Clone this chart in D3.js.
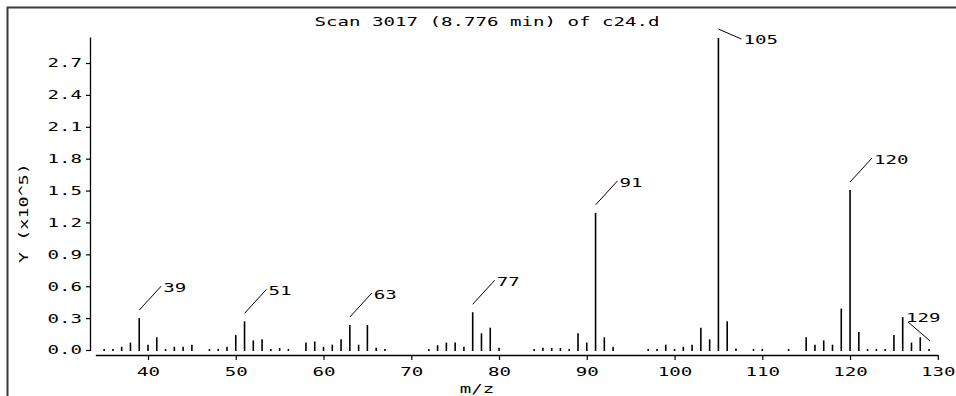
<!DOCTYPE html>
<html>
<head>
<meta charset="utf-8">
<script src="https://cdn.jsdelivr.net/npm/d3@7"></script>
<style>
  html, body { margin: 0; padding: 0; background: #fff; }
  svg { display: block; }
  text { font-family: "DejaVu Sans Mono", monospace; font-size: 13px; fill: #000; }
</style>
</head>
<body>
<svg id="chart" width="956" height="396"></svg>
<script>
// ---- data (intensity in units of 10^5) ----
const title = "Scan 3017 (8.776 min) of c24.d";
const xTitle = "m/z";
const yTitle = "Y (x10^5)";
const mz = [35,36,37,38,39,40,41,42,43,44,45,47,48,49,50,51,52,53,54,55,56,58,59,60,61,62,63,64,65,66,67,
            72,73,74,75,76,77,78,79,80,84,85,86,87,88,89,90,91,92,93,97,98,99,100,101,102,103,104,105,106,107,
            109,110,113,115,116,117,118,119,120,121,122,123,124,125,126,127,128,129];
const intensity = [0.01,0.01,0.03,0.07,0.30,0.05,0.12,0.01,0.03,0.03,0.05,0.01,0.01,0.03,0.14,0.27,0.09,0.10,0.01,0.02,0.01,
            0.07,0.08,0.03,0.05,0.10,0.235,0.05,0.235,0.02,0.01,
            0.01,0.045,0.07,0.07,0.03,0.355,0.157,0.21,0.02,0.01,0.02,0.02,0.02,0.01,0.157,0.07,1.29,0.12,0.03,
            0.01,0.01,0.05,0.01,0.03,0.05,0.21,0.10,2.935,0.27,0.015,
            0.01,0.01,0.01,0.12,0.05,0.09,0.05,0.39,1.505,0.17,0.01,0.01,0.01,0.14,0.31,0.07,0.12,0.01];
const labelMz = [39, 51, 63, 77, 91, 105, 120, 129];
const labelSide = ["ur", "ur", "ur", "ur", "ur", "r", "ur", "ul"];
const xTickValues = [40, 50, 60, 70, 80, 90, 100, 110, 120, 130];
const yTickValues = [0.0, 0.3, 0.6, 0.9, 1.2, 1.5, 1.8, 2.1, 2.4, 2.7];

// ---- layout ----
const CH = 11.5; // character advance of the wide bitmap-like font
const svg = d3.select("#chart");
const x = d3.scaleLinear().domain([34, 130]).range([95.35, 937.8]);
const y = d3.scaleLinear().domain([0, 2.94]).range([350, 37.5]);

function fit(sel) {
  sel.each(function () {
    const t = d3.select(this);
    t.attr("textLength", t.text().length * CH).attr("lengthAdjust", "spacingAndGlyphs");
  });
  return sel;
}

// frame
svg.append("path")
  .attr("d", "M7.5,396 L7.5,7.5 L956,7.5")
  .attr("fill", "none").attr("stroke", "#3a3a3a").attr("stroke-width", 2);

// title
fit(svg.append("text").attr("x", 487).attr("y", 25.5).attr("text-anchor", "middle").text(title));

// y axis
const gy = svg.append("g").attr("transform", "translate(90,0)")
  .call(d3.axisLeft(y).tickValues(yTickValues).tickFormat(d3.format(".1f")).tickSize(4).tickSizeOuter(0).tickPadding(4));
gy.select(".domain").attr("d", `M0.5,${y(0) + 1}V${y(2.94)}`).attr("stroke", "#000").attr("stroke-width", 1.3);
gy.selectAll(".tick line").attr("stroke", "#000").attr("stroke-width", 1.2);
gy.selectAll(".tick text").attr("dy", "0.30em");
fit(gy.selectAll(".tick text"));
gy.attr("font-family", null).attr("font-size", null);

// x axis
const gx = svg.append("g").attr("transform", "translate(0,355)")
  .call(d3.axisBottom(x).tickValues(xTickValues).tickSize(5).tickSizeOuter(0).tickPadding(7));
gx.select(".domain").attr("stroke", "#000").attr("stroke-width", 1.3);
gx.selectAll(".tick line").attr("stroke", "#000").attr("stroke-width", 1.2);
gx.attr("font-family", null).attr("font-size", null);
fit(gx.selectAll(".tick text"));

// axis titles
fit(svg.append("text").attr("x", 477).attr("y", 392.5).attr("text-anchor", "middle").text(xTitle));
fit(svg.append("text").attr("transform", "translate(27.5,213) rotate(-90)").attr("text-anchor", "middle").text(yTitle))
  .attr("textLength", 100);

// bars (stick spectrum)
svg.append("g").selectAll("line").data(mz).join("line")
  .attr("x1", d => x(d)).attr("x2", d => x(d))
  .attr("y1", y(0) + 1)
  .attr("y2", (d, i) => Math.min(y(intensity[i]), y(0) - 1))
  .attr("stroke", "#000").attr("stroke-width", 1.6);

// peak labels with leader lines
const lab = svg.append("g");
labelMz.forEach((m, k) => {
  const i = mz.indexOf(m);
  const px = x(m), py = y(intensity[i]);
  let x1, y1, x2, y2, tx, ty;
  if (labelSide[k] === "ur") {
    x1 = px; y1 = py - 8; x2 = px + 22; y2 = py - 32; tx = x2 + 2; ty = y2 + 1.5;
  } else if (labelSide[k] === "r") {
    x1 = px; y1 = py - 9; x2 = px + 23; y2 = py + 1; tx = x2 + 2; ty = y2;
  } else {
    x1 = px + 1; y1 = py - 8; x2 = px - 21; y2 = py - 27; tx = x2 - 2; ty = y2 - 5;
  }
  lab.append("line").attr("x1", x1).attr("y1", y1).attr("x2", x2).attr("y2", y2)
    .attr("stroke", "#000").attr("stroke-width", 1);
  fit(lab.append("text").attr("x", tx).attr("y", ty).attr("dy", "0.36em").text(String(m)));
});
</script>
</body>
</html>
